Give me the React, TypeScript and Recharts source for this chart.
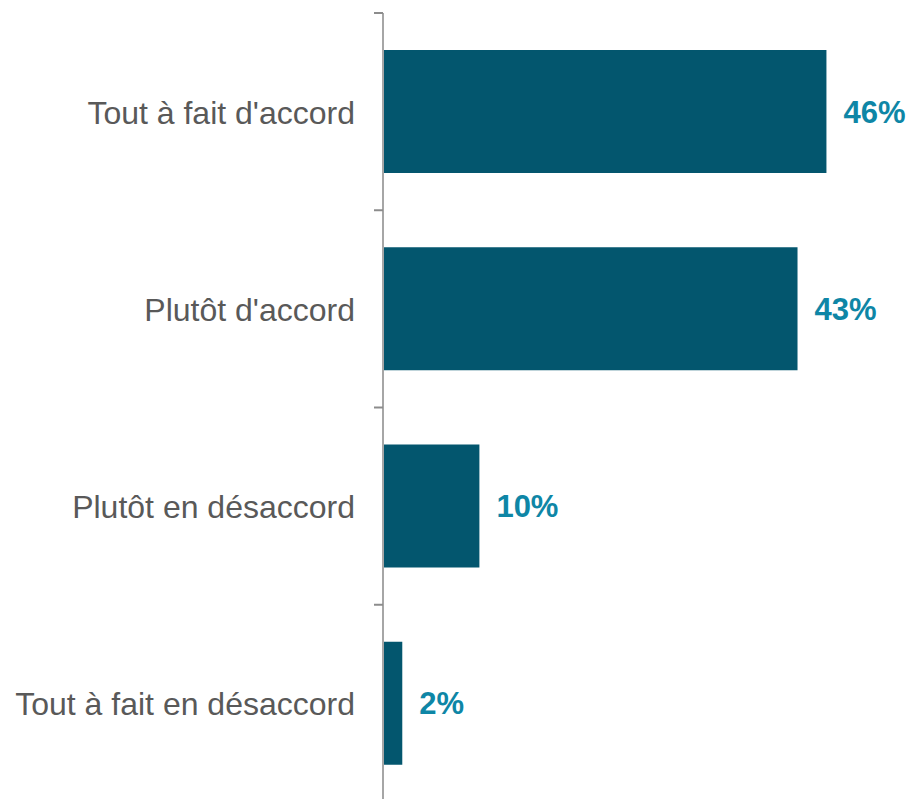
import React from "react";
import { BarChart, Bar, XAxis, YAxis, LabelList } from "recharts";

const categories = ["Tout à fait d'accord", "Plutôt d'accord", "Plutôt en désaccord", "Tout à fait en désaccord"];
const values = [46, 43, 10, 2];
const valueLabels = ["46%", "43%", "10%", "2%"];

const data = categories.map((c, i) => ({ name: c, value: values[i], label: valueLabels[i] }));

const FONT = "'Liberation Sans', Arial, sans-serif";

const CatTick = (props: any) => {
  const { x, y, payload } = props;
  const off = payload.offset || 0;
  return (
    <g>
      <line x1={x + 19} x2={x + 28} y1={y - off} y2={y - off} stroke="#8C8C8C" strokeWidth={2} />
      <text x={x} y={y + 1} textAnchor="end" dominantBaseline="central" fill="#595959" fontSize={32} fontFamily={FONT}>
        {payload.value}
      </text>
    </g>
  );
};

export default function App() {
  return (
    <div style={{ position: "absolute", left: 0, top: 0, background: "#fff" }}>
      <BarChart
        width={911}
        height={802}
        data={data}
        layout="vertical"
        margin={{ top: 13, right: 46, bottom: 0, left: 0 }}
        barSize={123}
      >
        <XAxis type="number" domain={[0, 50]} hide />
        <YAxis
          type="category"
          dataKey="name"
          width={383}
          axisLine={{ stroke: "#A6A6A6", strokeWidth: 2 }}
          tickLine={false}
          tickMargin={22}
          tick={<CatTick />}
          interval={0}
        />
        <Bar dataKey="value" fill="#03566E" isAnimationActive={false}>
          <LabelList
            dataKey="label"
            position="right"
            offset={17}
            fill="#0E86A6"
            fontSize={31}
            fontWeight="bold"
            fontFamily={FONT}
          />
        </Bar>
      </BarChart>
    </div>
  );
}
